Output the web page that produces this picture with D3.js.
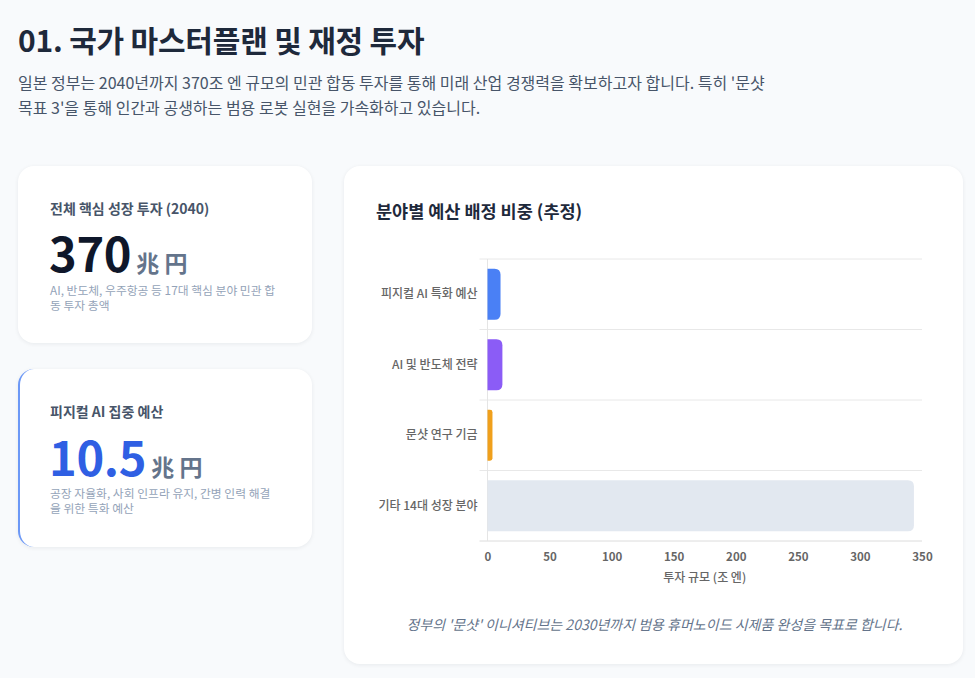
<!DOCTYPE html>
<html>
<head>
<meta charset="utf-8">
<script src="https://cdn.jsdelivr.net/npm/d3@7"></script>
<style>
  body { margin: 0; background: #f8fafc; font-family: "Noto Sans CJK KR", "Noto Sans", sans-serif; }
  .page { position: relative; width: 975px; height: 678px; overflow: hidden; }
  h1 { position: absolute; left: 18px; top: 17px; margin: 0; font-size: 30px; font-weight: 700; color: #1e293b; letter-spacing: -0.2px; }
  .lead { position: absolute; left: 18px; top: 70px; width: 768px; margin: 0; font-size: 16px; line-height: 25px; color: #475569; word-break: keep-all; }
  .card { position: absolute; background: #fff; border-radius: 16px; box-shadow: 0 1px 4px rgba(15,23,42,0.07); box-sizing: border-box; }
  .stat .lbl { position: absolute; left: 32px; font-size: 14px; font-weight: 700; color: #475569; }
  .stat .num { position: absolute; left: 31px; font-size: 47px; font-weight: 700; line-height: 1; letter-spacing: -0.3px; }
  .stat .num span { font-size: 23px; color: #64748b; margin-left: 5px; letter-spacing: 0; }
  .stat .desc { position: absolute; left: 32px; width: 230px; font-size: 11.8px; line-height: 15px; color: #94a3b8; }
</style>
</head>
<body>
<div class="page">
  <h1>01. 국가 마스터플랜 및 재정 투자</h1>
  <p class="lead">일본 정부는 2040년까지 370조 엔 규모의 민관 합동 투자를 통해 미래 산업 경쟁력을 확보하고자 합니다. 특히 '문샷 목표 3'을 통해 인간과 공생하는 범용 로봇 실현을 가속화하고 있습니다.</p>

  <div class="card stat" style="left:18px; top:166px; width:294px; height:177px;">
    <div class="lbl" style="top:32px;">전체 핵심 성장 투자 (2040)</div>
    <div class="num" style="top:62px; color:#0f172a;">370<span>兆 円</span></div>
    <div class="desc" style="top:116px;">AI, 반도체, 우주항공 등 17대 핵심 분야 민관 합동 투자 총액</div>
  </div>

  <div class="card stat" style="left:18px; top:369px; width:294px; height:178px; border-left:2px solid #6c98f6;">
    <div class="lbl" style="top:32px; left:30px;">피지컬 AI 집중 예산</div>
    <div class="num" style="top:63px; left:29px; color:#2f5fe3;">10.5<span>兆 円</span></div>
    <div class="desc" style="top:116px; left:30px;">공장 자율화, 사회 인프라 유지, 간병 인력 해결을 위한 특화 예산</div>
  </div>

  <div class="card" id="chartCard" style="left:344px; top:166px; width:619px; height:498px;"></div>
</div>

<script>
// 분야별 예산 (조 엔)
var categories = ["피지컬 AI 특화 예산", "AI 및 반도체 전략", "문샷 연구 기금", "기타 14대 성장 분야"];
var budgets = [10.5, 12, 4, 343.5];
var barColors = ["#4a80f5", "#8b5cf6", "#f0a01c", "#e2e8f0"];
var xTicks = [0, 50, 100, 150, 200, 250, 300, 350];

function drawChart(){
  var W = 619, H = 498;
  var svg = d3.select("#chartCard").append("svg")
              .attr("width", W)
              .attr("height", H)
              .style("position", "absolute")
              .style("left", 0)
              .style("top", 0);

  svg.append("text")
     .attr("x", 32).attr("y", 52)
     .attr("font-size", 17.5).attr("font-weight", 700)
     .attr("fill", "#1e293b")
     .text("분야별 예산 배정 비중 (추정)");

  var left = 143.5, right = 578, top = 93, bottom = 375;

  var x = d3.scaleLinear().domain([0, 350]).range([left, right]);
  var y = d3.scaleBand().domain(categories).range([top, bottom]).padding(0);

  // horizontal grid at category boundaries
  var bounds = categories.map(function(c){ return y(c); }).concat([bottom]);
  svg.append("g").selectAll("line")
     .data(bounds)
     .enter().append("line")
     .attr("x1", left - 8).attr("x2", right)
     .attr("y1", function(d){ return d; })
     .attr("y2", function(d){ return d; })
     .attr("stroke", function(d, i){ return i == bounds.length - 1 ? "#dcdcdc" : "#e8e8e8"; })
     .attr("stroke-width", 1);

  // y axis line
  svg.append("line")
     .attr("x1", left).attr("x2", left)
     .attr("y1", top).attr("y2", bottom)
     .attr("stroke", "#e5e5e5");

  // bars with rounded end
  var bw = y.bandwidth() * 0.72, r = 6;
  svg.append("g").selectAll("path")
     .data(budgets)
     .enter().append("path")
     .attr("d", function(d, i){
        var x0 = x(0), x1 = x(d);
        var yc = y(categories[i]) + y.bandwidth() / 2;
        var y0 = yc - bw / 2, y1 = yc + bw / 2;
        var rr = Math.min(r, (x1 - x0) / 2);
        return "M" + x0 + "," + y0 +
               "H" + (x1 - rr) +
               "Q" + x1 + "," + y0 + " " + x1 + "," + (y0 + rr) +
               "V" + (y1 - rr) +
               "Q" + x1 + "," + y1 + " " + (x1 - rr) + "," + y1 +
               "H" + x0 + "Z";
     })
     .attr("fill", function(d, i){ return barColors[i]; });

  // y labels
  svg.append("g").selectAll("text")
     .data(categories)
     .enter().append("text")
     .attr("x", left - 10)
     .attr("y", function(d){ return y(d) + y.bandwidth() / 2; })
     .attr("dy", "0.35em")
     .attr("text-anchor", "end")
     .attr("font-size", 12).attr("font-weight", 500)
     .attr("fill", "#666")
     .text(function(d){ return d; });

  // x ticks
  var xAxis = d3.axisBottom(x).tickValues(xTicks).tickSize(0).tickPadding(12);
  var gx = svg.append("g").attr("transform", "translate(0," + bottom + ")").call(xAxis);
  gx.select(".domain").remove();
  gx.selectAll("text")
    .attr("font-family", "'Noto Sans CJK KR', sans-serif")
    .attr("font-size", 11.5).attr("font-weight", 600)
    .attr("fill", "#666");

  svg.append("text")
     .attr("x", (left + right) / 2).attr("y", 416)
     .attr("text-anchor", "middle")
     .attr("font-size", 12).attr("font-weight", 500)
     .attr("fill", "#666")
     .text("투자 규모 (조 엔)");

  svg.append("text")
     .attr("x", W / 2 + 1).attr("y", 464)
     .attr("text-anchor", "middle")
     .attr("font-size", 14).attr("font-style", "italic")
     .attr("fill", "#64748b")
     .text("정부의 '문샷' 이니셔티브는 2030년까지 범용 휴머노이드 시제품 완성을 목표로 합니다.");
}

window.onload = function(){
  drawChart();
};
</script>
</body>
</html>
